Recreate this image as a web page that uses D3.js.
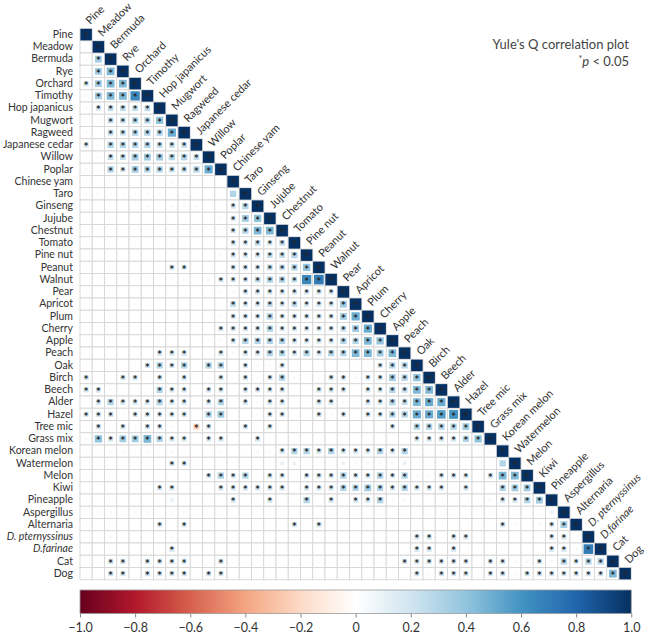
<!DOCTYPE html>
<html>
<head>
<meta charset="utf-8">
<script src="https://cdn.jsdelivr.net/npm/d3@7"></script>
<style>
  body { margin: 0; background: #fff; }
  text { font-family: Lato, "Noto Sans", sans-serif; }
</style>
</head>
<body>
<div id="chart"></div>
<script>
// allergen names, in matrix order
const allergens = ["Pine", "Meadow", "Bermuda", "Rye", "Orchard", "Timothy", "Hop japanicus",
  "Mugwort", "Ragweed", "Japanese cedar", "Willow", "Poplar", "Chinese yam", "Taro", "Ginseng",
  "Jujube", "Chestnut", "Tomato", "Pine nut", "Peanut", "Walnut", "Pear", "Apricot", "Plum",
  "Cherry", "Apple", "Peach", "Oak", "Birch", "Beech", "Alder", "Hazel", "Tree mic", "Grass mix",
  "Korean melon", "Watermelon", "Melon", "Kiwi", "Pineapple", "Aspergillus", "Alternaria",
  "D. pternyssinus", "D.farinae", "Cat", "Dog"];
const italicNames = ["D. pternyssinus", "D.farinae"];

// lower triangle of Yule's Q, row i holds columns 0..i-1 (diagonal = 1)
const yuleQ = [
  [],
  [0.05],
  [0.05, 0.35],
  [0.03, 0.35, 0.45],
  [0.2, 0.35, 0.45, 0.45],
  [0.05, 0.35, 0.45, 0.45, 0.65],
  [0.05, 0.2, 0.25, 0.25, 0.25, 0.25],
  [0, 0.05, 0.25, 0.25, 0.3, 0.3, 0.4],
  [0.05, 0, 0.25, 0.25, 0.3, 0.3, 0.3, 0.5],
  [0.2, 0.05, 0.3, 0.3, 0.3, 0.3, 0.25, 0.25, 0.25],
  [0.05, 0.05, 0.25, 0.25, 0.35, 0.35, 0.35, 0.3, 0.3, 0.25],
  [0.05, 0, 0.3, 0.2, 0.35, 0.3, 0.3, 0.25, 0.25, 0.3, 0.5],
  [0, 0, 0, 0, 0, 0.03, 0.05, 0.05, 0, 0, 0, 0],
  [0.05, 0.05, 0.03, 0.05, 0.03, 0.05, 0.05, 0.03, 0.05, 0, 0, 0, 0.3],
  [0, 0, 0, 0, 0, 0.05, 0, 0.05, 0.05, 0.05, 0, 0, 0.2, 0.3],
  [0, 0, 0.03, 0, 0, 0, 0, 0, 0, 0, 0, 0.05, 0.2, 0.35, 0.4],
  [0, 0.03, 0, 0, 0, 0, 0, 0, 0, 0.03, 0, 0, 0.2, 0.3, 0.45, 0.45],
  [0, 0, 0, 0, 0.03, 0, 0, 0.05, 0.05, 0, 0, 0, 0.2, 0.2, 0.25, 0.2, 0.25],
  [0, 0, 0, 0, 0, 0, 0, 0, 0, 0, 0, 0.05, 0.2, 0.2, 0.2, 0.25, 0.25, 0.3],
  [0.03, 0, 0, 0, 0, 0, 0, 0.2, 0.2, 0, 0.03, 0, 0.2, 0.2, 0.2, 0.25, 0.25, 0.3, 0.4],
  [0.03, -0.03, 0, 0, 0.03, -0.03, 0, 0.05, 0.05, 0, 0.05, 0.2, 0.2, 0.2, 0.25, 0.3, 0.3, 0.25, 0.65, 0.7],
  [0, 0, 0, 0, 0, 0, 0, 0, 0, 0, 0.03, 0.05, 0.05, 0.2, 0.2, 0.2, 0.2, 0.2, 0.2, 0.2, 0.2],
  [0, 0, 0, 0, 0.03, 0, 0, 0, 0, 0, 0, 0.03, 0.25, 0.2, 0.2, 0.25, 0.2, 0.25, 0.2, 0.2, 0.2, 0.35],
  [0, 0, 0.03, 0, 0, 0.03, 0, 0, 0, 0, 0.03, 0.05, 0.2, 0.2, 0.2, 0.3, 0.2, 0.2, 0.2, 0.2, 0.2, 0.35, 0.5],
  [0, 0, 0, 0, 0, 0, 0, 0.03, 0, 0, 0, 0.2, 0.2, 0.2, 0.2, 0.3, 0.2, 0.2, 0.2, 0.2, 0.2, 0.25, 0.35, 0.5],
  [0.03, 0, 0, 0, 0, 0, 0.03, 0, 0, 0, 0.05, 0.05, 0.2, 0.3, 0.3, 0.3, 0.3, 0.2, 0.2, 0.2, 0.2, 0.3, 0.3, 0.45, 0.4],
  [0, 0, 0, 0, 0, 0, 0.2, 0.2, 0.2, 0, 0.03, 0.2, 0.05, 0.2, 0.2, 0.3, 0.3, 0.2, 0.3, 0.2, 0.3, 0.3, 0.45, 0.45, 0.35, 0.45],
  [0, 0, 0, 0, 0.03, 0.2, 0.3, 0.2, 0.3, 0, 0.3, 0.3, 0, 0.2, 0.05, 0.05, 0.2, 0.03, 0, 0.03, 0, 0, 0.03, 0.05, 0.2, 0.3, 0.3],
  [0.2, 0, 0, 0.2, 0.2, 0, 0.2, 0, 0.2, 0, 0.03, 0.2, 0, 0.2, 0.05, 0.2, 0.3, 0.05, 0, 0.03, 0.2, 0.2, 0.05, 0.2, 0.2, 0.35, 0.3, 0.4],
  [0.2, 0.2, 0.05, 0, 0, 0, 0.3, 0.2, 0.2, 0, 0.2, 0.2, 0, 0.2, 0.2, 0.2, 0.2, 0, 0.03, 0.2, 0.2, 0.2, 0.03, 0.2, 0.2, 0.3, 0.25, 0.45, 0.45],
  [0, 0.2, 0.3, 0.2, 0.2, 0.2, 0.3, 0.2, 0.2, 0, 0.2, 0.3, 0, 0.2, 0.05, 0.2, 0.2, 0, 0, 0.2, 0.2, 0.05, 0, 0.2, 0.2, 0.3, 0.25, 0.45, 0.5, 0.5],
  [0.2, 0.2, 0.2, 0.05, 0.2, 0.2, 0.2, 0.2, 0.2, 0, 0.3, 0.35, 0, 0, 0.03, 0.2, 0.2, 0, 0, 0.2, 0.05, 0.2, 0, 0.2, 0.2, 0.3, 0.3, 0.5, 0.5, 0.55, 0.6],
  [0.05, 0.2, 0, 0.2, 0.05, 0.2, 0.2, 0.05, 0, -0.25, 0.2, 0, 0, 0.2, 0, 0.2, 0, 0, 0, 0, 0, 0, 0, 0.03, 0.03, 0.2, 0, 0.3, 0.3, 0.3, 0.3, 0.35],
  [0.05, 0.4, 0.2, 0.35, 0.35, 0.45, 0.3, 0.2, 0.2, 0, 0.2, 0.2, 0, 0, 0.2, 0, 0, 0, 0, 0, 0, 0, 0, 0, 0, 0, 0, 0.2, 0.2, 0.2, 0.2, 0.3, 0.4],
  [0.03, 0.03, 0.05, 0.05, 0.03, 0.05, 0.03, 0.05, 0.05, 0, 0.03, 0.05, 0, 0.03, 0.05, 0.05, 0.2, 0.3, 0.3, 0.2, 0.3, 0.2, 0.2, 0.2, 0.3, 0.2, 0.3, 0.05, 0.03, 0.05, 0.05, 0.03, 0.03, 0.05],
  [0, 0, 0, 0, 0, 0, 0, 0.2, 0.2, 0, 0, 0, 0, 0, 0, 0, 0.1, 0.1, 0.05, 0, 0, 0.1, 0.05, 0.05, 0.05, 0.05, 0.1, 0, 0, 0, 0, 0, 0, 0, 0.3],
  [0, 0, 0, 0, 0, 0, 0, 0, 0, 0, 0.2, 0.3, 0.2, 0.3, 0, 0.2, 0.2, 0, 0.2, 0.2, 0.2, 0.3, 0.2, 0.2, 0.3, 0.2, 0.3, 0.05, 0.05, 0.2, 0.2, 0.2, 0, 0.2, 0.45, 0.45],
  [0, 0, 0, 0, 0, 0, 0.2, 0.2, 0, 0, 0, 0.2, 0.2, 0.2, 0.2, 0.2, 0.2, 0, 0.2, 0.2, 0.2, 0.3, 0.3, 0.35, 0.3, 0.2, 0.3, 0.2, 0.2, 0.2, 0.05, 0.2, 0, 0, 0.3, 0.35, 0.35],
  [0, 0, 0, 0, 0, 0, 0, 0.1, 0, 0, 0, 0, 0.2, 0, 0, 0.2, 0, 0, 0.3, 0, 0.2, 0, 0.2, 0.2, 0.3, 0.05, 0.05, 0, 0, 0, 0, 0, 0, 0.05, 0.2, 0.2, 0.3, 0.35],
  [0, 0.05, 0.05, 0.03, 0.05, 0.05, 0.03, 0.05, 0.05, 0, 0, 0.03, 0, 0, 0, 0, 0, 0, 0, 0, 0, 0, 0, 0, 0, 0, 0, 0, 0, 0, 0, 0, 0, 0.05, 0.05, 0, 0, 0, 0.1],
  [0.03, 0, 0, 0, 0, 0, 0.2, 0, 0.2, 0, 0, 0, 0, 0, 0, 0, 0, 0.2, 0, 0.2, 0, 0, 0, 0, 0, 0, 0, 0, 0, 0, 0, 0, 0, 0, 0.2, 0.05, 0, 0.05, 0.2, 0.35],
  [0.03, -0.03, 0.05, 0.03, 0, 0, 0, 0.05, 0, 0.03, 0, 0.03, 0, 0, 0, 0, 0, 0, 0, 0, 0, 0, 0, 0, 0, 0, 0, 0.2, 0.2, 0, 0.2, 0.2, 0, 0, 0, 0, 0, 0, 0.2, 0.2, 0],
  [0, 0, 0.03, 0, 0, 0, 0, 0.2, 0, 0, 0, 0, 0, 0, 0, 0, 0, 0, 0, 0, 0, 0, 0, 0, 0, 0, 0, 0.2, 0.2, 0, 0.2, 0, 0, 0, 0, 0, 0, 0, 0.2, 0.2, 0.05, 0.7],
  [0, 0, 0.2, 0.2, 0, 0.2, 0.2, 0.2, 0.2, 0, 0, 0.2, 0, 0, 0, 0, 0, 0, 0, 0, 0, 0, 0, 0, 0, 0, 0.2, 0.2, 0.2, 0.2, 0.2, 0.2, 0, 0.2, 0.2, 0.05, 0.05, 0.2, 0.05, 0.3, 0.2, 0.3, 0.3],
  [0, 0, 0.2, 0.2, 0, 0.2, 0.2, 0.2, 0.2, 0, 0.2, 0.2, 0, 0, 0, 0, 0, 0, 0, 0, 0, 0, 0, 0, 0, 0, 0, 0.2, 0.05, 0.2, 0.2, 0.2, 0, 0.2, 0.2, 0.05, 0.2, 0.2, 0.2, 0.2, 0.2, 0.2, 0.2, 0.45]
];

// columns with p < 0.05, per row
const sigCols = [
  [], [], [1], [1, 2], [0, 1, 2, 3], [1, 2, 3, 4], [1, 2, 3, 4, 5], [2, 3, 4, 5, 6],
  [2, 3, 4, 5, 6, 7], [0, 2, 3, 4, 5, 6, 7, 8], [2, 3, 4, 5, 6, 7, 8, 9],
  [2, 3, 4, 5, 6, 7, 8, 9, 10], [], [], [12, 13], [12, 13, 14], [12, 13, 14, 15],
  [12, 13, 14, 15, 16], [12, 13, 14, 15, 16, 17], [7, 8, 12, 13, 14, 15, 16, 17, 18],
  [11, 12, 13, 14, 15, 16, 17, 18, 19], [13, 14, 15, 16, 17, 18, 19, 20],
  [12, 13, 14, 15, 16, 17, 18, 19, 20, 21], [12, 13, 14, 15, 16, 17, 18, 19, 20, 21, 22],
  [11, 12, 13, 14, 15, 16, 17, 18, 19, 20, 21, 22, 23],
  [12, 13, 14, 15, 16, 17, 18, 19, 20, 21, 22, 23, 24],
  [6, 7, 8, 11, 13, 14, 15, 16, 17, 18, 19, 20, 21, 22, 23, 24, 25],
  [5, 6, 7, 8, 10, 11, 13, 16, 24, 25, 26],
  [0, 3, 4, 6, 8, 11, 13, 15, 16, 20, 21, 23, 24, 25, 26, 27],
  [0, 1, 6, 7, 8, 10, 11, 13, 14, 15, 16, 19, 20, 21, 23, 24, 25, 26, 27, 28],
  [1, 2, 3, 4, 5, 6, 7, 8, 10, 11, 13, 15, 16, 19, 20, 23, 24, 25, 26, 27, 28, 29],
  [0, 1, 2, 4, 5, 6, 7, 8, 10, 11, 15, 16, 19, 21, 23, 24, 25, 26, 27, 28, 29, 30],
  [1, 3, 5, 6, 9, 10, 13, 15, 25, 27, 28, 29, 30, 31],
  [1, 2, 3, 4, 5, 6, 7, 8, 10, 11, 14, 27, 28, 29, 30, 31, 32],
  [16, 17, 18, 19, 20, 21, 22, 23, 24, 25, 26],
  [7, 8],
  [10, 11, 12, 13, 15, 16, 18, 19, 20, 21, 22, 23, 24, 25, 26, 29, 30, 31, 33, 34, 35],
  [6, 7, 11, 12, 13, 14, 15, 16, 18, 19, 20, 21, 22, 23, 24, 25, 26, 27, 28, 29, 31, 34, 35, 36],
  [12, 15, 18, 20, 22, 23, 24, 34, 35, 36, 37],
  [],
  [6, 8, 17, 19, 34, 38, 39],
  [27, 28, 30, 31, 38, 39],
  [7, 27, 28, 30, 38, 39, 41],
  [2, 3, 5, 6, 7, 8, 11, 26, 27, 28, 29, 30, 31, 33, 34, 37, 39, 40, 41, 42],
  [2, 3, 5, 6, 7, 8, 10, 11, 27, 29, 30, 31, 33, 34, 36, 37, 38, 39, 40, 41, 42, 43]
];

const legendTicks = [-1, -0.8, -0.6, -0.4, -0.2, 0, 0.2, 0.4, 0.6, 0.8, 1];
const rdbuColors = ["#67001F", "#B2182B", "#D6604D", "#F4A582", "#FDDBC7", "#FFFFFF",
  "#D1E5F0", "#92C5DE", "#4393C3", "#2166AC", "#053061"];

const width = 663, height = 636;
const n = allergens.length;
const gridLeft = 80, gridTop = 28.5, cell = 12.25;

const svg = d3.select("#chart").append("svg")
  .attr("width", width)
  .attr("height", height);

const x = d3.scaleBand().domain(d3.range(n)).range([gridLeft, gridLeft + cell * n]);
const y = d3.scaleBand().domain(d3.range(n)).range([gridTop, gridTop + cell * n]);
const color = d3.scaleLinear().domain(legendTicks).range(rdbuColors);

// build the cell list from the lower triangle
const cells = [];
for (let i = 0; i < n; i++) {
  for (let j = 0; j <= i; j++) {
    const v = j === i ? 1 : (yuleQ[i][j] || 0);
    const sig = j === i || sigCols[i].includes(j);
    cells.push({ i, j, v, sig });
  }
}

// grid
svg.append("g").selectAll("rect")
  .data(cells)
  .enter().append("rect")
  .attr("x", d => x(d.j))
  .attr("y", d => y(d.i))
  .attr("width", x.bandwidth())
  .attr("height", y.bandwidth())
  .attr("fill", "#fff")
  .attr("stroke", "#d6d6d6")
  .attr("stroke-width", 0.9);

// squares sized by |Q|
const side = d => x.bandwidth() * 0.94 * Math.sqrt(Math.abs(d.v));
svg.append("g").selectAll("rect")
  .data(cells.filter(d => d.v !== 0))
  .enter().append("rect")
  .attr("x", d => x(d.j) + x.bandwidth() / 2 - side(d) / 2)
  .attr("y", d => y(d.i) + y.bandwidth() / 2 - side(d) / 2)
  .attr("width", side)
  .attr("height", side)
  .attr("fill", d => color(d.v));

// significance stars
svg.append("g").selectAll("text")
  .data(cells.filter(d => d.sig))
  .enter().append("text")
  .attr("x", d => x(d.j) + x.bandwidth() / 2)
  .attr("y", d => y(d.i) + y.bandwidth() / 2 + 6.3)
  .attr("text-anchor", "middle")
  .attr("font-size", 11)
  .attr("font-weight", "bold")
  .attr("font-family", "DejaVu Sans")
  .attr("fill", "#262626")
  .text("*");

// row labels
svg.append("g").selectAll("text")
  .data(allergens)
  .enter().append("text")
  .attr("x", gridLeft - 7)
  .attr("y", (d, i) => y(i) + y.bandwidth() / 2 + 3.3)
  .attr("text-anchor", "end")
  .attr("font-size", 10.5)
  .attr("font-style", d => italicNames.includes(d) ? "italic" : "normal")
  .attr("fill", "#333")
  .text(d => d);

// column labels, rotated
svg.append("g").selectAll("text")
  .data(allergens)
  .enter().append("text")
  .attr("transform", (d, i) => `translate(${x(i) + x.bandwidth() / 2 + 4},${y(i) - 3.5}) rotate(-45)`)
  .attr("font-size", 11)
  .attr("font-style", d => italicNames.includes(d) ? "italic" : "normal")
  .attr("fill", "#333")
  .text(d => d);

// title
svg.append("text")
  .attr("x", 629).attr("y", 49)
  .attr("text-anchor", "end")
  .attr("font-size", 13)
  .attr("fill", "#444")
  .text("Yule's Q correlation plot");

const note = svg.append("text")
  .attr("x", 629).attr("y", 66)
  .attr("text-anchor", "end")
  .attr("font-size", 13)
  .attr("fill", "#444");
note.append("tspan").attr("font-size", 9).attr("dy", -4).text("*");
note.append("tspan").attr("font-style", "italic").attr("dy", 4).text("p");
note.append("tspan").text(" < 0.05");

// colour bar
const barY = 590, barH = 23.5;
const legendX = d3.scaleLinear().domain([-1, 1]).range([gridLeft, gridLeft + cell * n]);

const grad = svg.append("defs").append("linearGradient")
  .attr("id", "rdbu")
  .attr("x1", "0%").attr("x2", "100%");
grad.selectAll("stop")
  .data(d3.range(0, 1.0001, 0.02))
  .enter().append("stop")
  .attr("offset", d => d * 100 + "%")
  .attr("stop-color", d => color(d * 2 - 1));

svg.append("rect")
  .attr("x", legendX(-1))
  .attr("y", barY)
  .attr("width", legendX(1) - legendX(-1))
  .attr("height", barH)
  .attr("fill", "url(#rdbu)")
  .attr("stroke", "#999")
  .attr("stroke-width", 0.8);

const legendAxis = svg.append("g")
  .attr("transform", `translate(0,${barY + barH})`)
  .call(d3.axisBottom(legendX)
    .tickValues(legendTicks)
    .tickSize(4)
    .tickFormat(d => d === 0 ? "0" : d3.format(".1f")(d)));
legendAxis.select(".domain").remove();
legendAxis.selectAll("line").attr("stroke", "#888");
legendAxis.selectAll("text")
  .attr("font-size", 12.5)
  .attr("font-family", "Lato, 'Noto Sans', sans-serif")
  .attr("fill", "#333")
  .attr("dy", "0.9em");
</script>
</body>
</html>
